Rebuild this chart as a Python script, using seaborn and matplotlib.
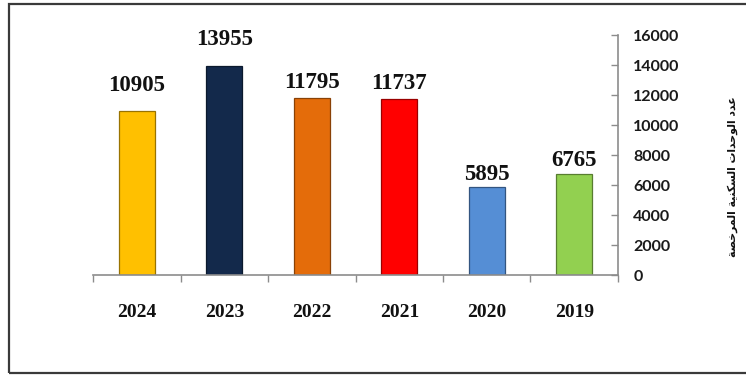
import matplotlib
matplotlib.use("Agg")
import matplotlib.pyplot as plt
from matplotlib.patches import Rectangle
from matplotlib import colors as mcolors
import seaborn as sns
import pandas as pd

# ---- data -------------------------------------------------------------
years = ["2024", "2023", "2022", "2021", "2020", "2019"]
units = [10905, 13955, 11795, 11737, 5895, 6765]
bar_colors = ["#FFC000", "#13294B", "#E46C0A", "#FF0000", "#558ED5", "#92D050"]
y_ticks = [0, 2000, 4000, 6000, 8000, 10000, 12000, 14000, 16000]
y_title = "عدد الوحدات السكنية المرخصة"

# label lift above each bar top (points)
label_lift = [14.5, 15.0, 7.0, 7.5, 5.0, 5.5]

# ---- simple Arabic shaping (contextual forms + visual order) ----------
FORMS = {
    "ا": (0xFE8D, 0xFE8E),
    "ت": (0xFE95, 0xFE96, 0xFE97, 0xFE98),
    "ة": (0xFE93, 0xFE94),
    "ح": (0xFEA1, 0xFEA2, 0xFEA3, 0xFEA4),
    "خ": (0xFEA5, 0xFEA6, 0xFEA7, 0xFEA8),
    "د": (0xFEA9, 0xFEAA),
    "ر": (0xFEAD, 0xFEAE),
    "س": (0xFEB1, 0xFEB2, 0xFEB3, 0xFEB4),
    "ص": (0xFEB9, 0xFEBA, 0xFEBB, 0xFEBC),
    "ع": (0xFEC9, 0xFECA, 0xFECB, 0xFECC),
    "ك": (0xFED9, 0xFEDA, 0xFEDB, 0xFEDC),
    "ل": (0xFEDD, 0xFEDE, 0xFEDF, 0xFEE0),
    "م": (0xFEE1, 0xFEE2, 0xFEE3, 0xFEE4),
    "ن": (0xFEE5, 0xFEE6, 0xFEE7, 0xFEE8),
    "و": (0xFEED, 0xFEEE),
    "ي": (0xFEF1, 0xFEF2, 0xFEF3, 0xFEF4),
}


def shape_arabic(text):
    out = []
    for i, ch in enumerate(text):
        f = FORMS.get(ch)
        if f is None:
            out.append(ch)
            continue
        prev = text[i - 1] if i > 0 else ""
        nxt = text[i + 1] if i + 1 < len(text) else ""
        joins_prev = prev in FORMS and len(FORMS[prev]) == 4
        joins_next = len(f) == 4 and nxt in FORMS
        if joins_prev and joins_next:
            idx = 3
        elif joins_prev:
            idx = 1
        elif joins_next:
            idx = 2
        else:
            idx = 0
        out.append(chr(f[idx]))
    return "".join(reversed(out))


# ---- figure -----------------------------------------------------------
sns.set_style("white")
plt.rcParams["font.family"] = ["DejaVu Sans"]

df = pd.DataFrame({"year": years, "units": units})

fig = plt.figure(figsize=(7.46, 3.76), dpi=100)
ax = fig.add_axes([0.1247, 0.2686, 0.7037, 0.6383])

sns.barplot(data=df, x="year", y="units", hue="year", order=years,
            palette=bar_colors, legend=False, width=0.41, ax=ax,
            saturation=1.0)

for patch, c in zip(ax.patches, bar_colors):
    r, g, b = mcolors.to_rgb(c)
    patch.set_edgecolor((r * 0.6, g * 0.6, b * 0.6))
    patch.set_linewidth(0.9)

# value labels
for i, (v, lift) in enumerate(zip(units, label_lift)):
    ax.annotate(f"{v}", xy=(i, v), xytext=(0, lift), textcoords="offset points",
                ha="center", va="baseline", fontsize=16.5, fontweight="bold",
                family="Liberation Serif", color="#111111")

ax.set_xlim(-0.5, len(years) - 0.5)
ax.set_ylim(0, 16000)

# y axis on the right
ax.yaxis.tick_right()
ax.set_yticks(y_ticks)
ax.set_yticklabels([str(t) for t in y_ticks], fontsize=11.5, fontweight="bold",
                   family="Lato", color="#1a1a1a")
ax.tick_params(axis="y", direction="in", length=5, width=1, color="#8c8c8c",
               pad=11, right=True, left=False)

# x axis: labels at centres, ticks at category boundaries
ax.set_xticks(range(len(years)))
ax.set_xticklabels(years, fontsize=14, fontweight="bold",
                   family="Liberation Serif", color="#111111")
ax.set_xticks([i - 0.5 for i in range(len(years) + 1)], minor=True)
ax.tick_params(axis="x", which="major", length=0, pad=21)
ax.tick_params(axis="x", which="minor", direction="out", length=5, width=1,
               color="#8c8c8c", bottom=True)

ax.set_xlabel("")
ax.set_ylabel("")

for s in ["top", "left"]:
    ax.spines[s].set_visible(False)
for s in ["right", "bottom"]:
    ax.spines[s].set_color("#8c8c8c")
    ax.spines[s].set_linewidth(1.2)

# rotated Arabic axis title on the right
fig.text(0.982, 0.53, shape_arabic(y_title), rotation=90, ha="center",
         va="center", fontsize=7.8, fontweight="bold", family="DejaVu Sans",
         color="#111111")

# outer frame
fig.patches.append(Rectangle((0.0115, 0.008), 1.2, 0.981,
                             transform=fig.transFigure, fill=False,
                             edgecolor="#3a3a3a", linewidth=1.6))

fig.savefig("out.png", dpi=100)
